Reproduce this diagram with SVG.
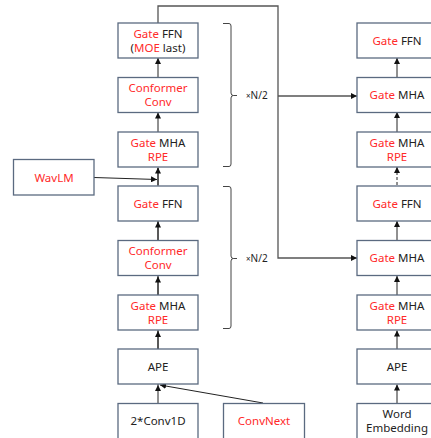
<svg xmlns="http://www.w3.org/2000/svg" width="431" height="438" viewBox="0 0 431 438">
<style>
.box{fill:#fff;stroke:#5b6a80;stroke-width:1.3}
text{font-family:"Noto Sans","Liberation Sans",Arial,sans-serif;font-size:11.5px;fill:#222;text-anchor:middle}
.r{fill:#ff2a2a}
.ln{fill:none;stroke:#222;stroke-width:1}
.gl{fill:none;stroke:#555;stroke-width:1.3}
.br{fill:none;stroke:#444;stroke-width:1}
.lbl{font-size:10px;text-anchor:start}
</style>
<defs>
<marker id="ah" viewBox="0 0 6 6" refX="6" refY="3" markerWidth="6" markerHeight="6" markerUnits="userSpaceOnUse" orient="auto">
<path d="M0,0 L6,3 L0,6 z" fill="#111"/>
</marker>
</defs>
<rect width="431" height="438" fill="#fff"/>
<g id="connectors">
<path class="ln" d="M158,385 V168" />
<path class="ln" d="M158,349 V331" marker-end="url(#ah)"/>
<path class="ln" d="M158,295 V276.5" marker-end="url(#ah)"/>
<path class="ln" d="M158,240 V221.5" marker-end="url(#ah)"/>
<path class="ln" d="M158,185 V167.5" marker-end="url(#ah)"/>
<path class="ln" d="M158,132 V112.5" marker-end="url(#ah)"/>
<path class="ln" d="M158,77 V58" marker-end="url(#ah)"/>
<path class="ln" d="M158,403 V385" marker-end="url(#ah)"/>
<path class="ln" d="M263,403 L160,385" marker-end="url(#ah)"/>
<path class="ln" d="M94,177.5 L157,179.5" marker-end="url(#ah)"/>
<path class="gl" d="M158,23 V6 H278 V258 H352"/>
<path class="ln" d="M352,258 H357" marker-end="url(#ah)"/>
<path class="gl" d="M278,96 H352"/>
<path class="ln" d="M352,96 H357" marker-end="url(#ah)"/>
<path class="ln" d="M397,403 V384.5" marker-end="url(#ah)"/>
<path class="ln" d="M397,349 V330.5" marker-end="url(#ah)"/>
<path class="ln" d="M397,295 V276" marker-end="url(#ah)"/>
<path class="ln" d="M397,240 V221" marker-end="url(#ah)"/>
<path class="ln" d="M397,185 V167" stroke-dasharray="3,2" marker-end="url(#ah)"/>
<path class="ln" d="M397,132 V112" marker-end="url(#ah)"/>
<path class="ln" d="M397,77 V58" marker-end="url(#ah)"/>
</g>
<g id="braces">
<path class="br" d="M223,23.5 H229 Q231,23.5 231,26 V93 Q231,95.5 233.5,95.5 H237 M233.5,95.5 Q231,95.5 231,98 V164 Q231,166.5 229,166.5 H223"/>
<text class="lbl" x="246" y="99"><tspan font-size="8">×</tspan>N/2</text>
<path class="br" d="M223,186.5 H229 Q231,186.5 231,189 V256 Q231,258.5 233.5,258.5 H237 M233.5,258.5 Q231,258.5 231,261 V326 Q231,328.5 229,328.5 H223"/>
<text class="lbl" x="246" y="262"><tspan font-size="8">×</tspan>N/2</text>
</g>
<g id="enc_ffn_top"><rect class="box" x="118" y="23" width="80" height="35"/><text x="158" y="37.5"><tspan class="r">Gate</tspan> FFN</text><text x="158" y="51.5">(<tspan class="r">MOE</tspan> last)</text></g>
<g id="enc_conv_top"><rect class="box" x="118" y="77.5" width="80" height="35"/><text x="158" y="92" class="r">Conformer</text><text x="158" y="106" class="r">Conv</text></g>
<g id="enc_mha_top"><rect class="box" x="118" y="132" width="80" height="35"/><text x="158" y="146.5"><tspan class="r">Gate</tspan> MHA</text><text x="158" y="160.5" class="r">RPE</text></g>
<g id="wavlm"><rect class="box" x="13.5" y="159.5" width="80.5" height="35.5"/><text x="54" y="181.5" class="r">WavLM</text></g>
<g id="enc_ffn_bot"><rect class="box" x="118" y="186" width="80" height="35"/><text x="158" y="207.5"><tspan class="r">Gate</tspan> FFN</text></g>
<g id="enc_conv_bot"><rect class="box" x="118" y="240.5" width="80" height="35"/><text x="158" y="255" class="r">Conformer</text><text x="158" y="269" class="r">Conv</text></g>
<g id="enc_mha_bot"><rect class="box" x="118" y="295" width="80" height="35"/><text x="158" y="309.5"><tspan class="r">Gate</tspan> MHA</text><text x="158" y="323.5" class="r">RPE</text></g>
<g id="enc_ape"><rect class="box" x="118" y="349" width="80" height="35"/><text x="158" y="370.5">APE</text></g>
<g id="conv1d"><rect class="box" x="118" y="403.5" width="80" height="40"/><text x="158" y="424.5">2*Conv1D</text></g>
<g id="convnext"><rect class="box" x="223.5" y="403.5" width="81" height="40"/><text x="264" y="424.5" class="r">ConvNext</text></g>
<g id="dec_ffn_top"><rect class="box" x="357" y="23" width="80" height="35"/><text x="397" y="44.5"><tspan class="r">Gate</tspan> FFN</text></g>
<g id="dec_mha_cross_top"><rect class="box" x="357" y="77.5" width="80" height="35"/><text x="397" y="99"><tspan class="r">Gate</tspan> MHA</text></g>
<g id="dec_mha_top"><rect class="box" x="357" y="132" width="80" height="35"/><text x="397" y="146.5"><tspan class="r">Gate</tspan> MHA</text><text x="397" y="160.5" class="r">RPE</text></g>
<g id="dec_ffn_bot"><rect class="box" x="357" y="186" width="80" height="35"/><text x="397" y="207.5"><tspan class="r">Gate</tspan> FFN</text></g>
<g id="dec_mha_cross_bot"><rect class="box" x="357" y="240.5" width="80" height="35"/><text x="397" y="262"><tspan class="r">Gate</tspan> MHA</text></g>
<g id="dec_mha_bot"><rect class="box" x="357" y="295" width="80" height="35"/><text x="397" y="309.5"><tspan class="r">Gate</tspan> MHA</text><text x="397" y="323.5" class="r">RPE</text></g>
<g id="dec_ape"><rect class="box" x="357" y="349" width="80" height="35"/><text x="397" y="370.5">APE</text></g>
<g id="word_emb"><rect class="box" x="357" y="403.5" width="80" height="40"/><text x="397" y="417.5">Word</text><text x="397" y="431.5">Embedding</text></g>
</svg>
